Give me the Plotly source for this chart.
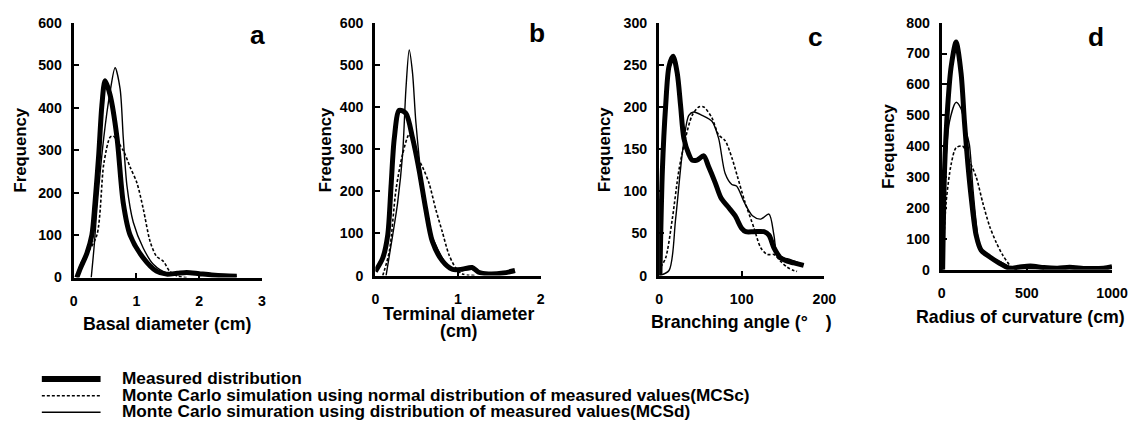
import plotly.graph_objects as go

W, H = 1139, 432
# the photographed page shows the figure in this many image pixels
IMG_W, IMG_H = 1124, 426
FS = W / IMG_W  # font compensation

# ---------- data ----------
# Panel a: Basal diameter (cm)
a_meas_x = [0.05, 0.11, 0.21, 0.29, 0.34, 0.40, 0.45, 0.50, 0.58, 0.69, 0.79, 0.90, 1.11, 1.32, 1.48, 1.65, 1.80, 2.0, 2.2, 2.4, 2.6]
a_meas_y = [0, 23, 57, 100, 176, 291, 406, 463, 430, 330, 176, 100, 46, 15, 8, 10, 12, 9, 6, 4, 3]
a_mcsd_x = [0.28, 0.33, 0.37, 0.48, 0.58, 0.66, 0.74, 0.79, 0.85, 0.95, 1.11, 1.27, 1.48, 1.8, 2.2, 2.6]
a_mcsd_y = [0, 80, 161, 330, 437, 494, 444, 330, 215, 130, 69, 31, 11, 10, 6, 3]
a_mcsc_x = [0.05, 0.12, 0.21, 0.37, 0.48, 0.58, 0.63, 0.79, 0.90, 1.01, 1.11, 1.22, 1.32, 1.43, 1.53, 1.64, 1.8]
a_mcsc_y = [0, 35, 55, 100, 268, 330, 333, 299, 260, 222, 161, 84, 50, 38, 15, 4, 0]

# Panel b: Terminal diameter (cm)
b_meas_x = [0.0, 0.09, 0.15, 0.19, 0.23, 0.29, 0.37, 0.45, 0.53, 0.61, 0.69, 0.81, 0.93, 1.05, 1.17, 1.25, 1.37, 1.55, 1.69]
b_meas_y = [10, 42, 96, 212, 327, 392, 385, 327, 250, 158, 81, 35, 15, 15, 19, 8, 4, 6, 12]
b_mcsd_x = [0.13, 0.21, 0.27, 0.33, 0.37, 0.41, 0.45, 0.49, 0.57, 0.65, 0.73, 0.81, 0.89, 1.05, 1.17, 1.25, 1.45, 1.69]
b_mcsd_y = [0, 96, 173, 288, 442, 535, 481, 365, 212, 112, 73, 42, 19, 12, 15, 8, 5, 8]
b_mcsc_x = [0.09, 0.17, 0.25, 0.33, 0.41, 0.49, 0.57, 0.65, 0.73, 0.81, 0.89, 0.97, 1.05, 1.2]
b_mcsc_y = [0, 58, 204, 288, 335, 288, 258, 219, 158, 104, 50, 19, 4, 0]

# Panel c: Branching angle (deg)
c_meas_x = [1, 4, 8, 12, 17, 22, 26, 30, 36, 40, 46, 54, 60, 68, 75, 84, 92, 100, 105, 115, 127, 133, 139, 147, 155, 163, 175]
c_meas_y = [0, 125, 202, 248, 260, 240, 202, 163, 144, 137, 137, 142, 129, 110, 92, 81, 71, 56, 52, 52, 52, 48, 33, 21, 17, 15, 12]
c_mcsd_x = [0, 12, 20, 28, 36, 42, 52, 64, 72, 80, 88, 94, 103, 113, 123, 133, 139, 143, 151, 159, 175]
c_mcsd_y = [0, 6, 67, 144, 190, 194, 190, 183, 163, 121, 108, 106, 87, 71, 67, 73, 48, 25, 21, 19, 13]
c_mcsc_x = [2, 8, 16, 24, 32, 40, 48, 54, 64, 72, 80, 88, 95, 103, 115, 123, 131, 139, 147, 155, 163, 167]
c_mcsc_y = [10, 21, 67, 125, 163, 190, 200, 200, 187, 167, 160, 140, 117, 90, 56, 33, 25, 25, 17, 10, 6, 5]

# Panel d: Radius of curvature (cm)
d_meas_x = [5, 16, 35, 55, 84, 113, 133, 153, 172, 202, 231, 280, 339, 397, 450, 520, 600, 680, 750, 850, 950, 1000]
d_meas_y = [0, 321, 532, 658, 737, 637, 479, 342, 237, 111, 63, 42, 21, 5, 8, 12, 7, 5, 8, 4, 5, 10]
d_mcsd_x = [5, 21, 45, 84, 113, 143, 162, 182, 202, 221, 260, 319, 378, 417, 500, 600]
d_mcsd_y = [0, 321, 479, 542, 521, 447, 405, 268, 153, 79, 47, 32, 16, 5, 4, 3]
d_mcsc_x = [5, 25, 55, 84, 123, 162, 202, 241, 280, 319, 358, 397, 417, 450]
d_mcsc_y = [0, 216, 342, 395, 400, 353, 300, 216, 142, 89, 47, 16, 5, 0]

panel_letters = ["a", "b", "c", "d"]
x_titles = [["Basal diameter (cm)"], ["Terminal diameter", "(cm)"], ["Branching angle (°\u3000)"], ["Radius of curvature (cm)"]]
x_ranges = [[0, 3], [0, 2], [0, 200], [0, 1000]]
x_dticks = [1, 1, 100, 500]
y_ranges = [[0, 600], [0, 600], [0, 300], [0, 800]]
y_dticks = [100, 100, 50, 100]
legend_labels = [
    "Measured distribution",
    "Monte Carlo simulation using normal distribution of measured values(MCSc)",
    "Monte Carlo simuration using distribution of measured values(MCSd)",
]

panels = [
    (a_meas_x, a_meas_y, a_mcsc_x, a_mcsc_y, a_mcsd_x, a_mcsd_y),
    (b_meas_x, b_meas_y, b_mcsc_x, b_mcsc_y, b_mcsd_x, b_mcsd_y),
    (c_meas_x, c_meas_y, c_mcsc_x, c_mcsc_y, c_mcsd_x, c_mcsd_y),
    (d_meas_x, d_meas_y, d_mcsc_x, d_mcsc_y, d_mcsd_x, d_mcsd_y),
]

# ---------- layout geometry (target image pixels) ----------
px_x = [(70, 259), (373, 539), (658, 824), (942, 1113)]
px_y = [(276, 15), (274, 15), (274, 15), (268, 15)]

def fx(px):
    return px / IMG_W

def fy(py):
    return 1 - py / IMG_H

FONT = "Liberation Sans"
fig = go.Figure()
styles = [
    dict(width=5, color="black", dash="solid"),
    dict(width=1.6, color="black", dash="3px,2px"),
    dict(width=1.4, color="black", dash="solid"),
]

annotations = []
for i, p in enumerate(panels):
    xa = "x" if i == 0 else f"x{i+1}"
    ya = "y" if i == 0 else f"y{i+1}"
    mx, my, cx, cy, dx, dy = p
    for (xs, ys, st, nm) in [(cx, cy, styles[1], legend_labels[1]), (dx, dy, styles[2], legend_labels[2]), (mx, my, styles[0], legend_labels[0])]:
        fig.add_trace(go.Scatter(x=xs, y=ys, mode="lines", xaxis=xa, yaxis=ya,
                                 line=dict(shape="spline", smoothing=0.8, **st),
                                 showlegend=False, name=nm, cliponaxis=False))
    axkw = dict(showline=True, linewidth=3, linecolor="black", ticks="inside", ticklen=5,
                tickwidth=2, tickcolor="black", showgrid=False, zeroline=False,
                tickfont=dict(family=FONT, size=14 * FS, color="black", weight="bold"))
    xkey = "xaxis" if i == 0 else f"xaxis{i+1}"
    ykey = "yaxis" if i == 0 else f"yaxis{i+1}"
    fig.layout[xkey] = dict(domain=[fx(px_x[i][0]), fx(px_x[i][1])], range=x_ranges[i],
                            dtick=x_dticks[i], anchor=ya, ticklabelstandoff=8, **axkw)
    fig.layout[ykey] = dict(domain=[fy(px_y[i][0]), fy(px_y[i][1])], range=y_ranges[i],
                            dtick=y_dticks[i], anchor=xa, ticklabelstandoff=6, **axkw)

# panel letters
letter_pos = [(255, 28), (535, 26), (815, 30), (1097, 30)]
for L, (lx, ly) in zip(panel_letters, letter_pos):
    annotations.append(dict(text=L, x=fx(lx), y=fy(ly), xref="paper", yref="paper", showarrow=False,
                            xanchor="center", yanchor="middle",
                            font=dict(family=FONT, size=26 * FS, color="black", weight="bold")))

# y titles
ytitle_x = [17, 323, 603, 889]
ytitle_y = [145, 145, 145, 142]
for tx, ty in zip(ytitle_x, ytitle_y):
    annotations.append(dict(text="Frequency", x=fx(tx), y=fy(ty), xref="paper", yref="paper", showarrow=False,
                            xanchor="center", yanchor="middle",
                            textangle=-90, font=dict(family=FONT, size=16.5 * FS, color="black", weight="bold")))

# x titles (one annotation per line)
xtitle_pos = [(164, [324]), (457, [313, 331]), (741, [322]), (1021, [316])]
for lines, (tx, tys) in zip(x_titles, xtitle_pos):
    for t, ty in zip(lines, tys):
        annotations.append(dict(text=t, x=fx(tx), y=fy(ty), xref="paper", yref="paper", showarrow=False,
                                xanchor="center", yanchor="middle",
                                font=dict(family=FONT, size=17.5 * FS, color="black", weight="bold")))

# legend
shapes = []
leg_y = [380, 397, 414]
for k, (ly, st) in enumerate(zip(leg_y, styles)):
    shapes.append(dict(type="line", xref="paper", yref="paper", x0=fx(38), x1=fx(97), y0=fy(ly), y1=fy(ly),
                       line=dict(color="black", width=st["width"] + (1 if k == 0 else 0), dash=st["dash"])))
    annotations.append(dict(text=legend_labels[k], x=fx(117), y=fy(ly - 1), xref="paper", yref="paper",
                            xanchor="left", yanchor="middle", showarrow=False,
                            font=dict(family=FONT, size=17 * FS, color="black", weight="bold")))

fig.update_layout(width=W, height=H, margin=dict(l=0, r=0, t=0, b=0),
                  paper_bgcolor="white", plot_bgcolor="white",
                  annotations=annotations, shapes=shapes, showlegend=False)
fig.write_html("out.html", config={"displayModeBar": False},
               post_script="document.documentElement.style.overflow='hidden';"
                           "document.body.style.margin='0px';document.body.style.overflow='hidden';")
